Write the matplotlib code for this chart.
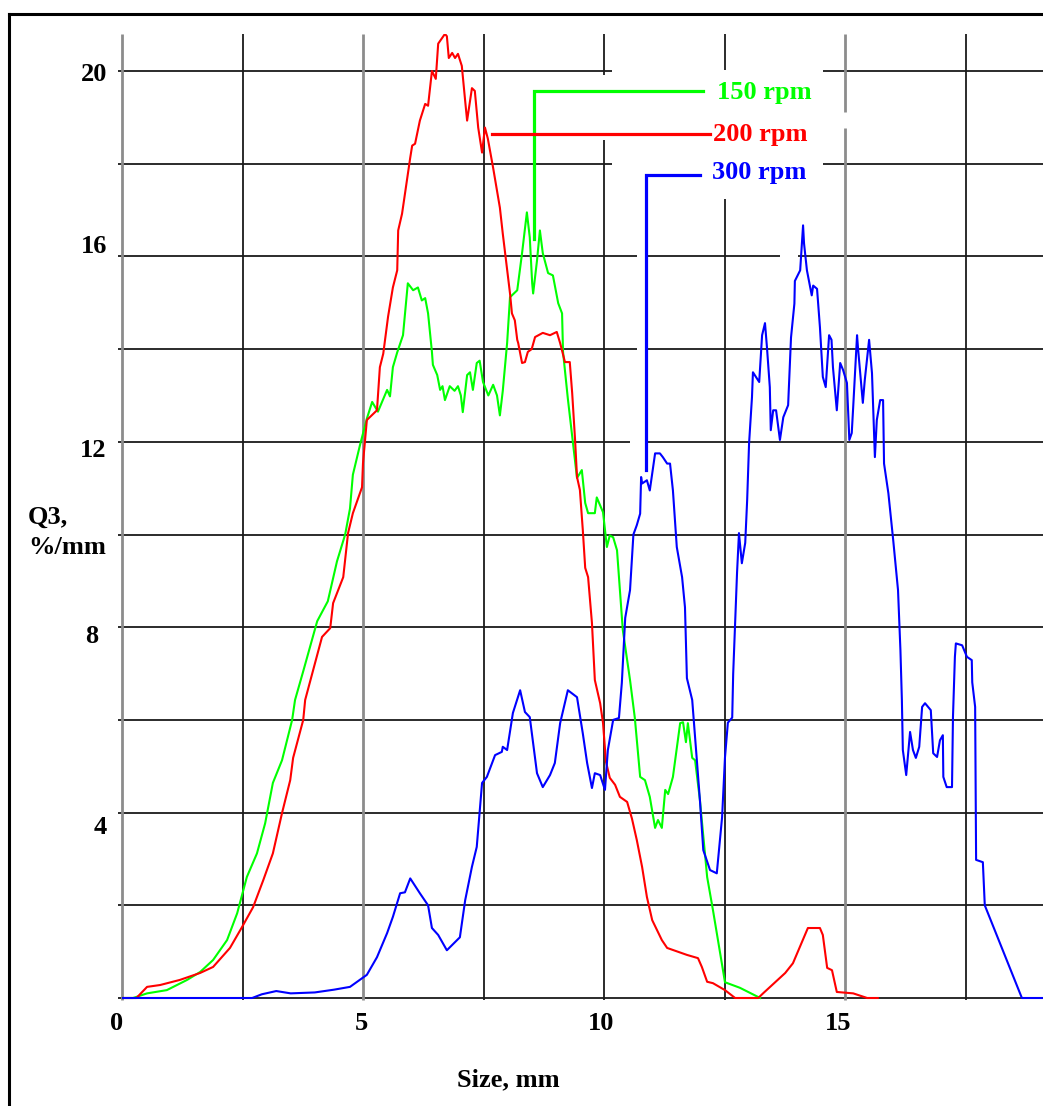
import matplotlib
matplotlib.use("Agg")
import matplotlib.pyplot as plt
from matplotlib.lines import Line2D

# ---------------- data ----------------
blue_x = [0, 2.7, 2.9, 3.2, 3.5, 4.0, 4.4, 4.73, 5.08, 5.29, 5.5, 5.62, 5.77, 5.87, 5.98, 6.18, 6.35, 6.43,
          6.56, 6.74, 7.01, 7.12, 7.26, 7.36, 7.47, 7.57, 7.74, 7.88, 7.9, 7.99, 8.11, 8.26, 8.36, 8.46,
          8.61, 8.73, 8.88, 8.98, 9.09, 9.25, 9.44, 9.56, 9.65, 9.75, 9.81, 9.92, 10.02, 10.08, 10.19,
          10.31, 10.37, 10.44, 10.54, 10.61, 10.68, 10.75, 10.77, 10.79, 10.89, 10.95, 11.06, 11.16,
          11.22, 11.31, 11.37, 11.43, 11.51, 11.62, 11.68, 11.72, 11.83, 11.89, 11.99, 12.06, 12.2,
          12.34, 12.45, 12.51, 12.57, 12.66, 12.68, 12.72, 12.76, 12.8, 12.86, 12.93, 12.97, 13.01,
          13.07, 13.09, 13.22, 13.28, 13.34, 13.38, 13.44, 13.46, 13.51, 13.57, 13.65, 13.72, 13.82,
          13.88, 13.95, 13.96, 14.07, 14.1, 14.13, 14.15, 14.21, 14.31, 14.34, 14.42, 14.48, 14.54,
          14.6, 14.67, 14.72, 14.75, 14.83, 14.9, 14.96, 15.04, 15.09, 15.14, 15.17, 15.25, 15.27,
          15.37, 15.41, 15.5, 15.56, 15.62, 15.66, 15.73, 15.79, 15.81, 15.9, 16.0, 16.1, 16.15,
          16.18, 16.2, 16.27, 16.35, 16.41, 16.47, 16.54, 16.6, 16.66, 16.78, 16.83, 16.91, 16.97,
          17.03, 17.04, 17.11, 17.22, 17.24, 17.28, 17.3, 17.43, 17.53, 17.63, 17.64, 17.7, 17.72,
          17.86, 17.9, 18.67, 19.1]
blue_y = [0, 0.0, 0.08, 0.15, 0.1, 0.12, 0.18, 0.24, 0.5, 0.88, 1.4, 1.75, 2.26, 2.28, 2.58, 2.26, 2.0, 1.51,
          1.36, 1.03, 1.31, 2.11, 2.83, 3.26, 4.64, 4.77, 5.24, 5.31, 5.42, 5.35, 6.15, 6.64, 6.17, 6.06,
          4.85, 4.55, 4.81, 5.07, 5.93, 6.64, 6.49, 5.71, 5.07, 4.53, 4.85, 4.81, 4.49, 5.35, 6.0,
          6.04, 6.8, 8.2, 8.8, 10.0, 10.2, 10.45, 11.24, 11.1, 11.17, 10.95, 11.75, 11.75,
          11.67, 11.53, 11.53, 10.95, 9.73, 9.08, 8.43, 6.9, 6.43, 5.63, 4.27, 3.19, 2.76,
          2.69, 3.9, 5.19, 5.94, 6.05, 6.99, 8.09, 9.17, 10.03, 9.38, 9.82, 10.74, 11.97,
          12.96, 13.5, 13.29, 14.3, 14.56, 14.05, 13.18, 12.25, 12.68, 12.68, 12.04, 12.53, 12.79,
          14.25, 14.98, 15.47, 15.7, 16.17, 16.67, 16.28, 15.7, 15.16, 15.37, 15.3, 14.47, 13.4,
          13.18, 14.3, 14.2, 13.61, 12.68, 13.7, 13.55, 13.27, 12.04, 12.19, 12.75, 14.3, 14.02,
          12.84, 13.33, 14.2, 13.48, 11.67, 12.47, 12.9, 12.9, 11.53, 10.89, 9.88, 8.8, 7.5,
          6.43, 5.35, 4.81, 5.74, 5.35, 5.18, 5.42, 6.28, 6.36, 6.21, 5.28, 5.2, 5.56,
          5.67, 4.77, 4.55, 4.55, 6.06, 7.36, 7.65, 7.61, 7.36, 7.29, 6.81, 6.28, 2.98,
          2.93, 2.0, 0.0, 0.0]

red_x = [0, 0.3, 0.52, 0.79, 1.2, 1.62, 1.89, 2.24, 2.49, 2.72, 2.93, 3.13, 3.32, 3.49, 3.55, 3.76, 3.8,
         4.15, 4.32, 4.38, 4.59, 4.69, 4.79, 4.98, 5.0, 5.08, 5.29, 5.35, 5.42, 5.52, 5.62, 5.71, 5.73,
         5.81, 5.98, 6.02, 6.08, 6.18, 6.29, 6.35, 6.43, 6.51, 6.56, 6.7, 6.74, 6.78, 6.85, 6.91, 6.97,
         7.05, 7.12, 7.16, 7.26, 7.32, 7.39, 7.47, 7.53, 7.59, 7.7, 7.84, 7.9, 8.05, 8.09, 8.15, 8.2,
         8.22, 8.3, 8.36, 8.42, 8.5, 8.57, 8.73, 8.88, 9.02, 9.09, 9.19, 9.29, 9.34, 9.4, 9.44, 9.5,
         9.56, 9.61, 9.67, 9.75, 9.81, 9.92, 9.98, 10.04, 10.12, 10.23, 10.33, 10.48, 10.58, 10.68,
         10.79, 10.89, 11.0, 11.2, 11.31, 11.72, 11.95, 12.03, 12.14, 12.26, 12.51, 12.72, 13.2, 13.3,
         13.76, 13.92, 14.23, 14.48, 14.54, 14.63, 14.73, 14.83, 15.17, 15.46, 15.68]
red_y = [0, 0.0, 0.24, 0.28, 0.39, 0.54, 0.67, 1.08, 1.53, 1.96, 2.54, 3.12, 3.99, 4.7, 5.18, 6.0, 6.43,
         7.79, 7.98, 8.52, 9.08, 10.03, 10.46, 11.02, 11.54, 12.47, 12.68, 13.61, 13.9, 14.7, 15.33, 15.7, 16.56,
         16.92, 18.13, 18.39, 18.43, 18.93, 19.29, 19.25, 20.0, 19.83, 20.59, 20.8, 20.75, 20.28, 20.39, 20.28, 20.37,
         20.11, 19.35, 18.93, 19.63, 19.57, 18.78, 18.24, 18.78, 18.54, 17.91, 17.05, 16.49, 15.2, 14.77, 14.62, 14.2,
         14.13, 13.7, 13.72, 13.94, 14.0, 14.26, 14.35, 14.3, 14.37, 14.13, 13.72, 13.72, 13.05, 12.04, 11.24, 10.96,
         10.1, 9.28, 9.08, 8.09, 6.86, 6.36, 5.93, 5.1, 4.75, 4.6, 4.34, 4.23, 3.87, 3.41,
         2.83, 2.18, 1.68, 1.25, 1.08, 0.93, 0.86, 0.67, 0.35, 0.32, 0.17, 0.0, 0.0, 0.1,
         0.54, 0.75, 1.51, 1.51, 1.36, 0.65, 0.6, 0.13, 0.1, 0.0, 0.0]

green_x = [0, 0.23, 0.52, 0.93, 1.35, 1.62, 1.89, 2.18, 2.39, 2.59, 2.8, 2.97, 3.13, 3.32, 3.53, 3.59, 3.76,
           4.05, 4.27, 4.46, 4.63, 4.73, 4.79, 4.94, 5.08, 5.19, 5.31, 5.5, 5.56, 5.62, 5.71, 5.83, 5.93,
           6.04, 6.14, 6.22, 6.29, 6.35, 6.43, 6.45, 6.54, 6.6, 6.65, 6.7, 6.8, 6.9, 6.97, 7.03, 7.07,
           7.16, 7.22, 7.28, 7.36, 7.42, 7.49, 7.6, 7.7, 7.78, 7.84, 7.9, 7.99, 8.05, 8.2, 8.3, 8.4,
           8.46, 8.51, 8.53, 8.61, 8.67, 8.73, 8.84, 8.94, 9.05, 9.13, 9.15, 9.25, 9.36, 9.44, 9.54,
           9.61, 9.67, 9.81, 9.85, 9.98, 10.06, 10.12, 10.19, 10.27, 10.39, 10.54, 10.64, 10.75, 10.85,
           10.95, 11.06, 11.12, 11.2, 11.27, 11.33, 11.43, 11.58, 11.64, 11.7, 11.74, 11.83, 11.89,
           11.99, 12.14, 12.26, 12.51, 12.82, 13.24]
green_y = [0, 0.0, 0.1, 0.17, 0.39, 0.56, 0.82, 1.25, 1.83, 2.61, 3.12, 3.77, 4.64, 5.13, 6.0, 6.43, 7.05,
           8.13, 8.56, 9.42, 10.0, 10.56, 11.29, 11.94, 12.5, 12.86, 12.65, 13.12, 12.98, 13.61, 13.93, 14.3, 15.42,
           15.27, 15.33, 15.05, 15.1, 14.77, 13.94, 13.66, 13.44, 13.12, 13.2, 12.9, 13.2, 13.1, 13.2, 13.0, 12.64,
           13.44, 13.5, 13.12, 13.7, 13.75, 13.29, 13.0, 13.23, 13.0, 12.57, 13.1, 14.13, 15.12, 15.27, 16.07, 16.95,
           16.41, 15.42, 15.2, 15.91, 16.56, 16.07, 15.64, 15.59, 14.99, 14.77, 13.94, 12.93, 11.94, 11.22, 11.39,
           10.68, 10.46, 10.46, 10.8, 10.48, 9.73, 9.98, 9.94, 9.66, 7.94, 6.86, 6.04, 4.77, 4.7,
           4.34, 3.67, 3.84, 3.67, 4.49, 4.4, 4.77, 5.93, 5.95, 5.52, 5.93, 5.18, 5.13,
           4.27, 2.61, 1.9, 0.34, 0.22, 0.0]

series_labels = ["150 rpm", "200 rpm", "300 rpm"]
series_colors = ["#00ff00", "#ff0000", "#0000ff"]

# leader lines for the series labels
leader_green_x = [8.55, 8.55, 12.05]
leader_green_y = [16.37, 19.57, 19.57]
leader_red_x = [7.68, 12.2]
leader_red_y = [18.64, 18.64]
leader_blue_x = [10.87, 10.87, 11.99]
leader_blue_y = [11.40, 17.76, 17.76]
label_pos = [(12.34, 19.53), (12.26, 18.64), (12.24, 17.80)]

x_ticks = [0, 5, 10, 15]
y_tick_labels = ["20", "16", "12", "8", "4"]

# ---------------- figure ----------------
W, H = 1043, 1106
fig = plt.figure(figsize=(W / 100, H / 100), dpi=100)
fig.patch.set_facecolor("white")

# pixel mapping of reference
X0PX, XS = 122.0, 48.2
Y0PX, YS = 998.0, 46.35
xmax = (W - X0PX) / XS
ytop = (Y0PX - 34) / YS
ybot = -0.1
left = X0PX / W
bottom = 1 - (Y0PX + (-ybot) * YS) / H
top = 1 - 34 / H
ax = fig.add_axes([left, bottom, 1 - left, top - bottom])
ax.set_xlim(0, xmax)
ax.set_ylim(ybot, ytop)
for s in ax.spines.values():
    s.set_visible(False)
ax.set_xticks([])
ax.set_yticks([])


def px2x(p):
    return (p - X0PX) / XS


def py2y(p):
    return (Y0PX - p) / YS


# horizontal grid lines with gaps (gaps given in reference pixels)
hgaps = {20: [(612, 823)], 18: [(612, 823)], 16: [(637, 648), (780, 798)],
         14: [(637, 648)], 12: [(630, 648)]}
for yv in [0, 2, 4, 6, 8, 10, 12, 14, 16, 18, 20]:
    segs = []
    start = -0.08
    for g0, g1 in hgaps.get(yv, []):
        segs.append((start, px2x(g0)))
        start = px2x(g1)
    segs.append((start, xmax))
    for a, b in segs:
        ax.plot([a, b], [yv, yv], color="#1a1a1a", lw=1.3, zorder=1, clip_on=False,
                solid_capstyle="butt")

# vertical grid lines with gaps
vgaps = {10: [(75, 140)], 12.5: [(70, 199)], 15: [(112, 128)]}
vcolor = {0: "#8c8c8c", 5: "#8c8c8c", 15: "#8c8c8c"}
vwidth = {0: 2.0, 5: 2.0, 15: 2.0}
for xv in [0, 2.5, 5, 7.5, 10, 12.5, 15, 17.5]:
    segs = []
    start = ytop
    for g0, g1 in vgaps.get(xv, []):
        segs.append((start, py2y(g0)))
        start = py2y(g1)
    segs.append((start, -0.05))
    for a, b in segs:
        ax.plot([xv, xv], [a, b], color=vcolor.get(xv, "#1a1a1a"), lw=vwidth.get(xv, 1.3),
                zorder=1, clip_on=False, solid_capstyle="butt")

# curves
ax.plot(green_x, green_y, color=series_colors[0], lw=1.5, zorder=3)
ax.plot(red_x, red_y, color=series_colors[1], lw=1.5, zorder=4)
ax.plot(blue_x, blue_y, color=series_colors[2], lw=1.5, zorder=5)

# leader lines
ax.plot(leader_green_x, leader_green_y, color=series_colors[0], lw=2.3, zorder=6,
        solid_joinstyle="miter")
ax.plot(leader_red_x, leader_red_y, color=series_colors[1], lw=2.3, zorder=6)
ax.plot(leader_blue_x, leader_blue_y, color=series_colors[2], lw=2.3, zorder=6,
        solid_joinstyle="miter")

font = dict(family="Liberation Serif", fontweight="bold", fontsize=19)
for lab, col, (lx, ly) in zip(series_labels, series_colors, label_pos):
    ax.text(lx, ly, lab, color=col, ha="left", va="center", zorder=7, **font)

# tick labels
ytick_pos = [(-0.31, 19.93), (-0.31, 16.22), (-0.33, 11.82), (-0.50, 7.79), (-0.31, 3.67)]
for lab, (lx, ly) in zip(y_tick_labels, ytick_pos):
    ax.text(lx, ly, lab, ha="right", va="center", color="black", **font)
xtick_cx = [-0.12, 4.96, 9.94, 14.85]
for v, cx in zip(x_ticks, xtick_cx):
    ax.text(cx, -0.54, str(v), ha="center", va="center", color="black", **font)

ax.text(6.95, -1.77, "Size, mm", ha="left", va="center", color="black", **font)
ax.text(-1.95, 10.38, "Q3,", ha="left", va="center", color="black", **font)
ax.text(-1.95, 9.71, "%/mm", ha="left", va="center", color="black", **font)

# outer frame (left and top)
fx = 8.5 / W
fy = 1 - 13.5 / H
fig.add_artist(Line2D([fx, fx], [0, fy], color="black", lw=2.2, transform=fig.transFigure))
fig.add_artist(Line2D([fx, 1], [fy, fy], color="black", lw=2.2, transform=fig.transFigure))

fig.savefig("out.png", dpi=100, facecolor="white")
